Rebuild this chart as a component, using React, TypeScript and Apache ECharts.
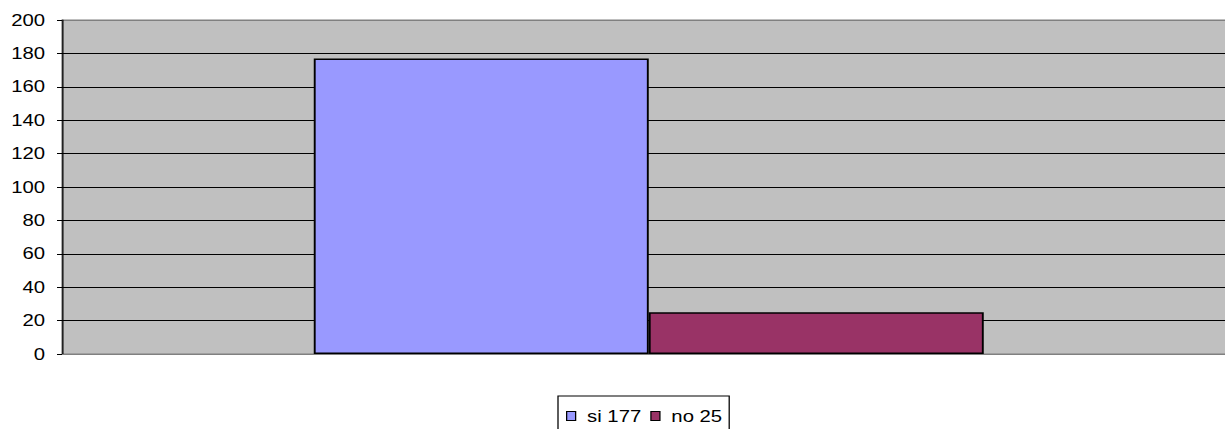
import React, { useEffect, useRef } from "react";
import * as echarts from "echarts";

const categories = [""];
const seriesNames = ["si 177", "no 25"];
const seriesValues = [177, 25];
const seriesColors = ["#9999FF", "#993366"];
const yTicks = { min: 0, max: 200, interval: 20 };

// The reference picture is stretched horizontally and its plot runs past the
// right edge; reproduce that with a CSS scaleX and a clipping wrapper.
const STRETCH = 1.27;
const FULL_W = 1225;
const FULL_H = 429;
const INNER_W = 1240;
const px = (v: number) => v / STRETCH;

export default function App() {
  const ref = useRef<HTMLDivElement>(null);
  useEffect(() => {
    if (!ref.current) return;
    const chart = echarts.init(ref.current, undefined, { renderer: "svg" });
    const lineCount = (yTicks.max - yTicks.min) / yTicks.interval + 1;
    const splitColors = Array.from({ length: lineCount }, (_, i) =>
      i === lineCount - 1 ? "#808080" : "#000000"
    );
    const font = "Liberation Sans, Arial, sans-serif";
    chart.setOption({
      animation: false,
      backgroundColor: "#ffffff",
      textStyle: { fontFamily: font },
      grid: {
        left: px(62),
        right: px(INNER_W - 1236),
        top: 20,
        bottom: 75,
        show: true,
        backgroundColor: "#C0C0C0",
        borderColor: "#808080",
        borderWidth: 1,
      },
      legend: {
        show: true,
        left: px(558),
        top: 396,
        orient: "horizontal",
        data: seriesNames,
        icon: "rect",
        itemWidth: px(9),
        itemHeight: 9,
        itemGap: px(9),
        padding: [12, px(7), 12, px(8)],
        borderColor: "#000000",
        borderWidth: 1,
        backgroundColor: "#ffffff",
        textStyle: {
          color: "#000000",
          fontSize: 16,
          fontFamily: font,
          padding: [0, 0, 0, 4],
        },
        itemStyle: { borderColor: "#000000", borderWidth: 1 },
      },
      xAxis: {
        type: "category",
        data: categories,
        axisLine: { show: true, lineStyle: { color: "#808080", width: 1 } },
        axisTick: { show: false },
        axisLabel: { show: false },
        splitLine: { show: false },
      },
      yAxis: {
        type: "value",
        min: yTicks.min,
        max: yTicks.max,
        interval: yTicks.interval,
        axisLine: { show: true, lineStyle: { color: "#000000", width: 1 } },
        axisTick: {
          show: true,
          inside: false,
          length: px(5),
          lineStyle: { color: "#000000" },
        },
        axisLabel: {
          color: "#000000",
          fontSize: 16,
          margin: px(17),
          fontFamily: font,
        },
        splitLine: {
          show: true,
          lineStyle: { color: splitColors, width: 1 },
        },
      },
      series: seriesNames.map((name, i) => ({
        name,
        type: "bar",
        data: [seriesValues[i]],
        barWidth: px(335),
        barGap: "0%",
        itemStyle: {
          color: seriesColors[i],
          borderColor: "#000000",
          borderWidth: 1.5,
        },
      })),
    });
    return () => chart.dispose();
  }, []);
  return (
    <div
      style={{
        position: "fixed",
        left: 0,
        top: 0,
        width: FULL_W,
        height: FULL_H,
        overflow: "hidden",
        background: "#ffffff",
      }}
    >
      <div
        ref={ref}
        style={{
          width: INNER_W / STRETCH,
          height: FULL_H,
          transform: `scaleX(${STRETCH})`,
          transformOrigin: "0 0",
        }}
      />
    </div>
  );
}
